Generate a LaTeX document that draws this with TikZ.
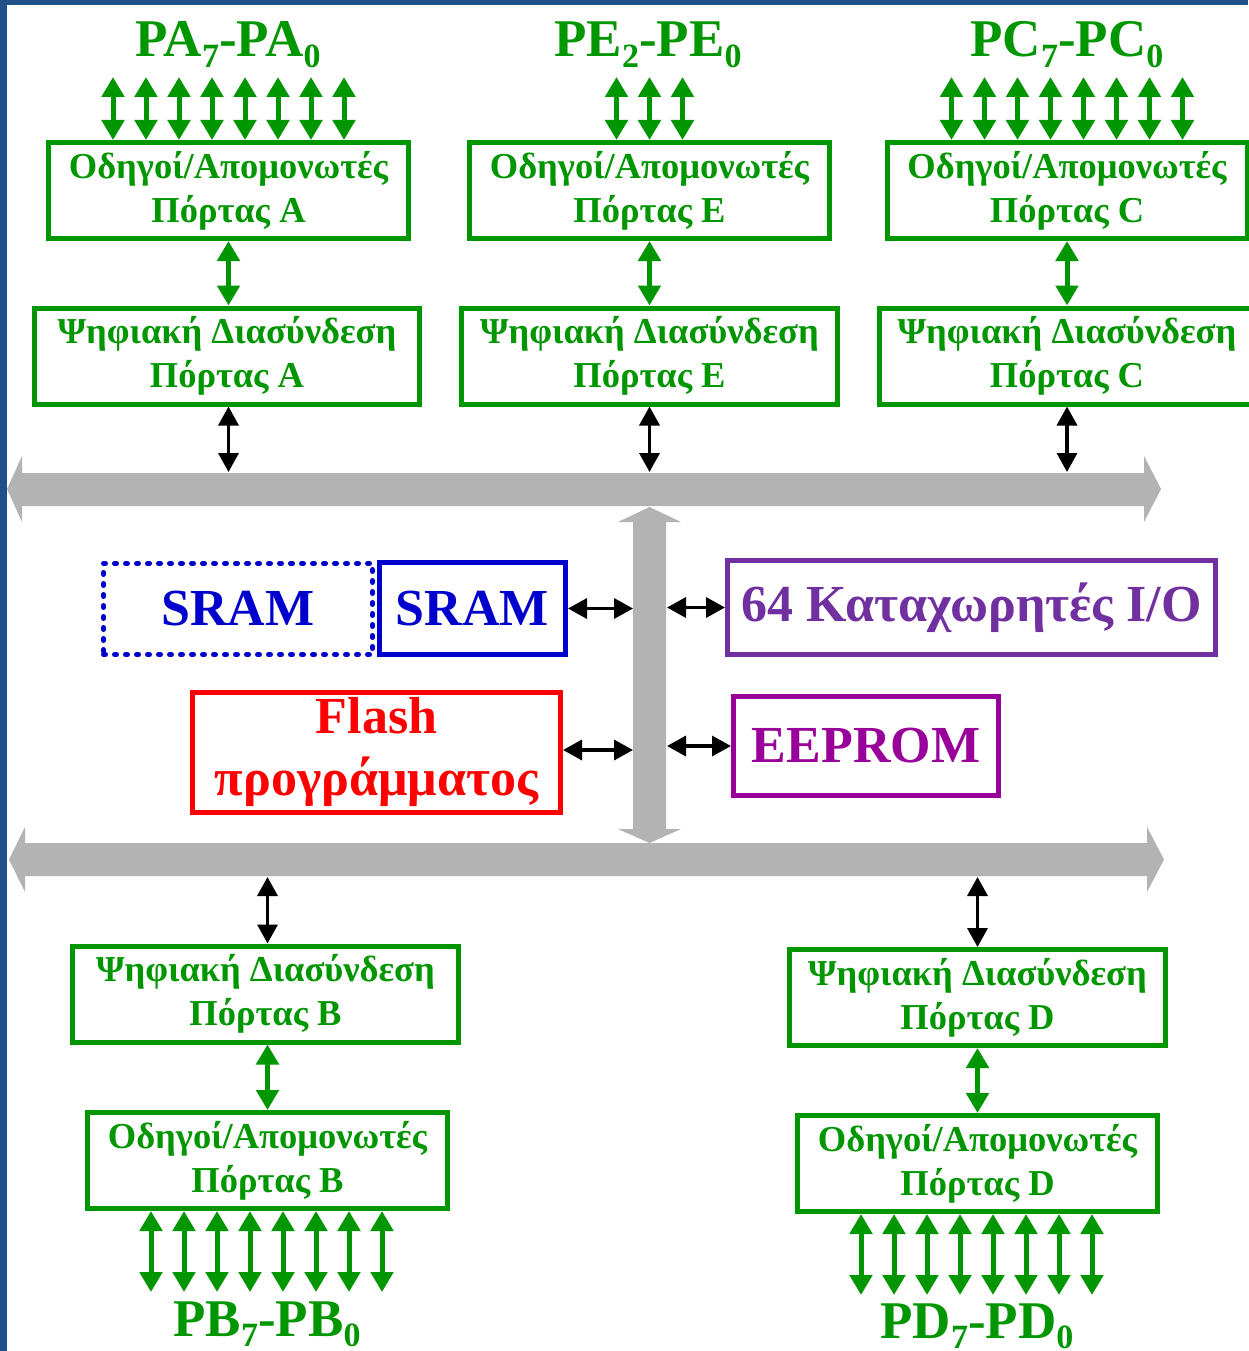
\documentclass[tikz,border=0pt]{standalone}
\usepackage{fontspec}
\setmainfont{Liberation Serif}
\usetikzlibrary{arrows.meta}
\definecolor{gr}{RGB}{0,150,0}
\definecolor{bl}{RGB}{0,0,204}
\definecolor{rd}{RGB}{255,0,0}
\definecolor{pu}{RGB}{112,48,160}
\definecolor{mg}{RGB}{153,0,153}
\definecolor{busgray}{RGB}{179,179,179}
\definecolor{slide}{RGB}{31,80,135}
\newcommand\lsub[1]{\raisebox{-0.2em}{\fontsize{34}{34}\selectfont #1}}
\begin{document}
\begin{tikzpicture}[x=1pt,y=-1pt,
  gbox/.style={draw=gr, line width=5pt, text=gr, font=\bfseries\fontsize{36.5}{44}\selectfont,
    align=center, inner sep=0pt, outer sep=2.5pt, minimum height=96pt},
  ga/.style={draw=gr, line width=5pt, {Triangle[length=20pt,width=22pt]}-{Triangle[length=20pt,width=22pt]}},
  ka/.style={draw=black, line width=3.5pt, {Triangle[length=19pt,width=20pt]}-{Triangle[length=19pt,width=20pt]}},
  lbl/.style={text=gr, font=\bfseries\fontsize{53}{53}\selectfont, inner sep=0pt},
  big/.style={font=\bfseries\fontsize{52}{62}\selectfont, align=center, inner sep=0pt, outer sep=2.5pt, line width=5pt}
]
\useasboundingbox (0,0) rectangle (1248,1351);
\fill[slide] (0,0) rectangle (1248,1351);
\fill[white] (7,5) rectangle (1248,1351);

% buses
\fill[busgray] (7,489) -- (22,456) -- (22,473) -- (1144,473) -- (1144,456) -- (1161,489)
  -- (1144,522) -- (1144,506) -- (22,506) -- (22,522) -- cycle;
\fill[busgray] (649.5,507) -- (681,522) -- (666,522) -- (666,829) -- (681,829) -- (649.5,843)
  -- (618,829) -- (633,829) -- (633,522) -- (618,522) -- cycle;
\fill[busgray] (9,859.5) -- (25,827) -- (25,843) -- (1147,843) -- (1147,827) -- (1164,859.5)
  -- (1147,892) -- (1147,876) -- (25,876) -- (25,892) -- cycle;
\coordinate (tbTop) at (0,472);
\coordinate (bbBot) at (0,877);
\coordinate (vbL) at (633,0);
\coordinate (vbR) at (667,0);

% top labels
\node[lbl, anchor=base] (lA) at (228,57) {PA\lsub{7}-PA\lsub{0}};
\node[lbl, anchor=base] (lE) at (648,57) {PE\lsub{2}-PE\lsub{0}};
\node[lbl, anchor=base] (lC) at (1067,57) {PC\lsub{7}-PC\lsub{0}};

% top boxes
\node[gbox, minimum width=360pt] (oA) at (228.5,190.5) {Οδηγοί/Απομονωτές\\Πόρτας A};
\node[gbox, minimum width=360pt] (oE) at (649.5,190.5) {Οδηγοί/Απομονωτές\\Πόρτας E};
\node[gbox, minimum width=360pt] (oC) at (1067,190.5) {Οδηγοί/Απομονωτές\\Πόρτας C};
\node[gbox, minimum width=385pt] (dA) at (227,356) {Ψηφιακή Διασύνδεση\\Πόρτας A};
\node[gbox, minimum width=376pt] (dE) at (649.5,356) {Ψηφιακή Διασύνδεση\\Πόρτας E};
\node[gbox, minimum width=376pt] (dC) at (1067,356) {Ψηφιακή Διασύνδεση\\Πόρτας C};

\foreach \i in {0,...,7} \draw[ga] ([xshift={(\i-3.5)*33}]oA.north) -- ++(0,-63);
\foreach \i in {0,...,2} \draw[ga] ([xshift={(\i-1)*33}]oE.north) -- ++(0,-63);
\foreach \i in {0,...,7} \draw[ga] ([xshift={(\i-3.5)*33}]oC.north) -- ++(0,-63);

\draw[ga] (oA.south) -- (oA.south |- dA.north);
\draw[ga] (oE.south) -- (oE.south |- dE.north);
\draw[ga] (oC.south) -- (oC.south |- dC.north);
\draw[ka] (dA.south -| oA.south) -- (oA.south |- tbTop);
\draw[ka] (dE.south -| oE.south) -- (oE.south |- tbTop);
\draw[ka] (dC.south -| oC.south) -- (oC.south |- tbTop);

% middle
\node[big, draw=bl, text=bl, dash pattern=on 2pt off 9pt, line cap=round,
  minimum width=269pt, minimum height=91pt] (sram1) at (238,609) {SRAM};
\node[big, draw=bl, text=bl, minimum width=186pt, minimum height=92pt] (sram2) at (472.5,608.5) {SRAM};
\node[big, draw=pu, text=pu, minimum width=488pt, minimum height=94pt] (io) at (971.5,607.5) {64 Καταχωρητές I/O};
\node[big, draw=rd, text=rd, minimum width=368pt, minimum height=120pt] (flash) at (376.5,752) {Flash\\προγράμματος};
\node[big, draw=mg, text=mg, minimum width=265pt, minimum height=99pt] (ee) at (866,746) {EEPROM};

\draw[ka] (sram2.east) -- (sram2.east -| vbL);
\draw[ka] (io.west -| vbR) -- (io.west);
\draw[ka] ([yshift=2pt]flash.east) -- ([yshift=2pt]flash.east -| vbL);
\draw[ka] (ee.west -| vbR) -- (ee.west);

% bottom boxes
\node[gbox, minimum width=386pt] (dB) at (265.5,994) {Ψηφιακή Διασύνδεση\\Πόρτας B};
\node[gbox, minimum width=360pt] (oB) at (267.5,1160.5) {Οδηγοί/Απομονωτές\\Πόρτας B};
\node[gbox, minimum width=376pt] (dD) at (977.5,997.5) {Ψηφιακή Διασύνδεση\\Πόρτας D};
\node[gbox, minimum width=360pt] (oD) at (977.5,1163.5) {Οδηγοί/Απομονωτές\\Πόρτας D};

\draw[ka] (oB.north |- bbBot) -- (oB.north |- dB.north);
\draw[ka] (oD.north |- bbBot) -- (oD.north |- dD.north);
\draw[ga] (oB.north |- dB.south) -- (oB.north);
\draw[ga] (oD.north |- dD.south) -- (oD.north);

\foreach \i in {0,...,7} \draw[ga] ([xshift={(\i-3.5)*33-1}]oB.south) -- ++(0,81);
\foreach \i in {0,...,7} \draw[ga] ([xshift={(\i-3.5)*33-1}]oD.south) -- ++(0,81);

\node[lbl, anchor=base] (lB) at (267,1336) {PB\lsub{7}-PB\lsub{0}};
\node[lbl, anchor=base] (lD) at (977,1338) {PD\lsub{7}-PD\lsub{0}};
\end{tikzpicture}
\end{document}
